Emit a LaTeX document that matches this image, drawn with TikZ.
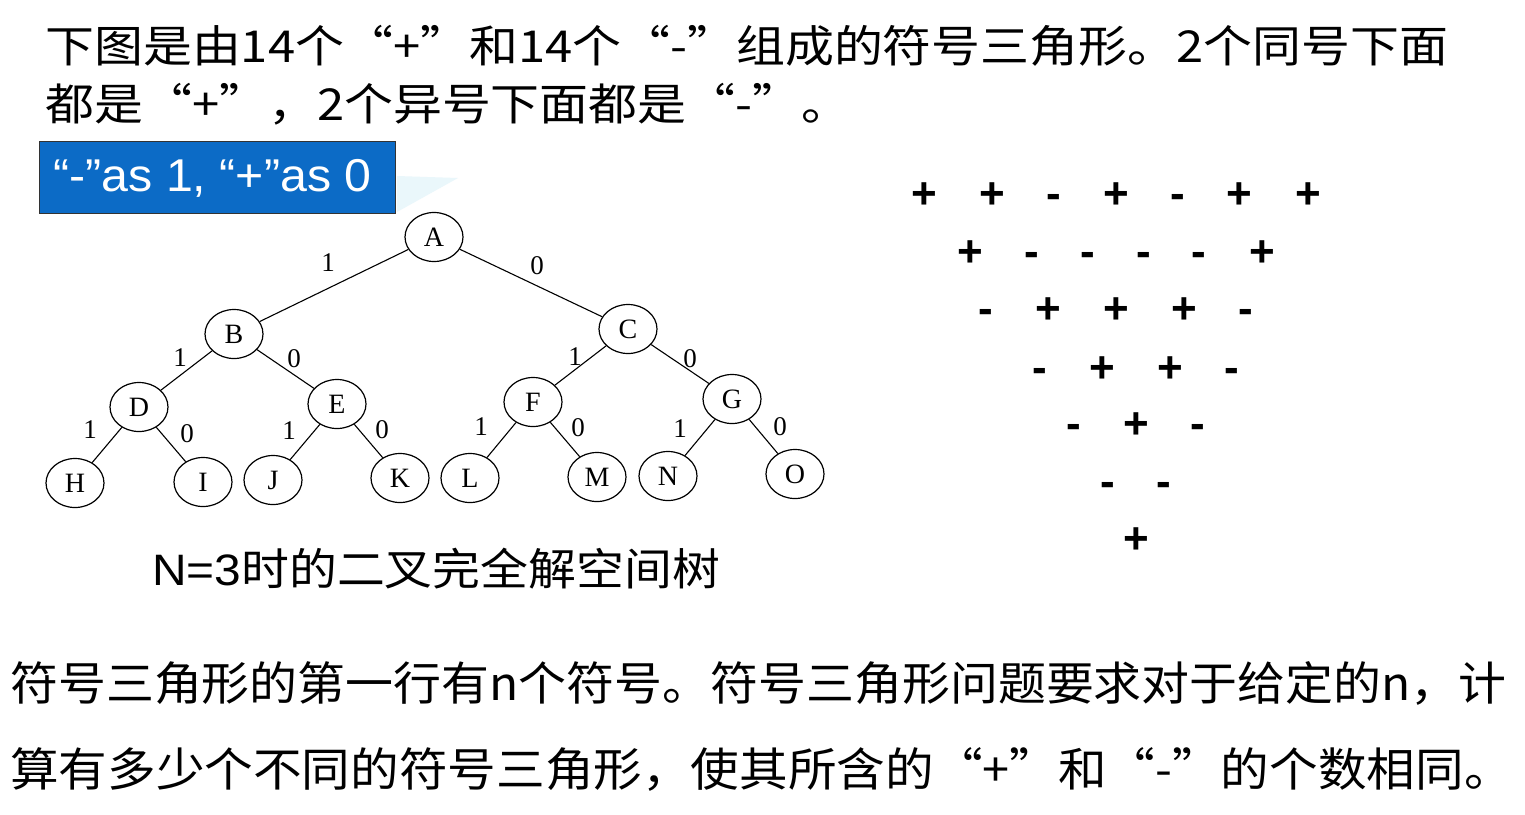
\documentclass[tikz,border=0pt]{standalone}
\usepackage{fontspec}
\setmainfont{Liberation Sans}
\newfontfamily\cjk{Noto Sans CJK SC}
\newfontfamily\treefont{Liberation Serif}
\usetikzlibrary{shapes.geometric}
\definecolor{boxblue}{HTML}{0C6BC6}
\definecolor{swoosh}{HTML}{EAF7FB}
\tikzset{
  tn/.style={ellipse, draw, line width=1.2pt, minimum width=58pt, minimum height=49pt, inner sep=0pt, font=\treefont\fontsize{28}{28}\selectfont},
  el/.style={inner sep=0pt, font=\treefont\fontsize{27}{27}\selectfont},
  ed/.style={line width=1.1pt},
  sg/.style={anchor=base, inner sep=0pt, font=\bfseries\fontsize{44}{44}\selectfont},
  bigtxt/.style={anchor=base west, inner sep=0pt, font=\cjk\fontsize{44}{50}\selectfont, xscale=1.112, transform shape},
  bottxt/.style={anchor=base west, inner sep=0pt, font=\cjk\fontsize{46}{50}\selectfont, transform shape},
}
\begin{document}
\begin{tikzpicture}[x=1pt,y=-1pt]
\fill[white] (0,0) rectangle (1525,814);
\useasboundingbox (0,0) rectangle (1525,814);
% top text
\node[bigtxt] (t1) at (45,62) {下图是由14个“+”和14个“-”组成的符号三角形。2个同号下面};
\node[bigtxt] (t2) at (45,120) {都是“+”，2个异号下面都是“-”。};
% decoration
\fill[swoosh] (397,176) -- (458,178) -- (397,212) -- cycle;
% blue box
\node[fill=boxblue, draw=black!80, line width=1pt, minimum width=356pt, minimum height=72pt, inner sep=0pt] (box) at (217,177) {};
\node[text=white, inner sep=0pt, font=\fontsize{46}{46}\selectfont, xscale=1.05, transform shape] (boxtxt) at (212.5,178) {“-”as 1, “+”as 0};
% tree
\node[tn] (A) at (434,237) {A};
\node[tn] (B) at (234,334) {B};
\node[tn] (C) at (628,329) {C};
\node[tn] (D) at (139,407) {D};
\node[tn] (E) at (337,404) {E};
\node[tn] (F) at (533,402) {F};
\node[tn] (G) at (732,399) {G};
\node[tn] (H) at (75,483) {H};
\node[tn] (I) at (203,482) {I};
\node[tn] (J) at (273,480) {J};
\node[tn] (K) at (400,478) {K};
\node[tn] (L) at (470,478) {L};
\node[tn] (M) at (597,477) {M};
\node[tn] (N) at (668,476) {N};
\node[tn] (O) at (795,474) {O};
\draw[ed] (A) -- (B); \draw[ed] (A) -- (C);
\draw[ed] (B) -- (D); \draw[ed] (B) -- (E);
\draw[ed] (C) -- (F); \draw[ed] (C) -- (G);
\draw[ed] (D) -- (H); \draw[ed] (D) -- (I);
\draw[ed] (E) -- (J); \draw[ed] (E) -- (K);
\draw[ed] (F) -- (L); \draw[ed] (F) -- (M);
\draw[ed] (G) -- (N); \draw[ed] (G) -- (O);
\node[el] (lab) at (328,263) {1};
\node[el] (lac) at (537,266) {0};
\node[el] (lbd) at (180,358) {1};
\node[el] (lbe) at (294,359) {0};
\node[el] (ldh) at (90,430) {1};
\node[el] (ldi) at (187,434) {0};
\node[el] (lej) at (289,431) {1};
\node[el] (lek) at (382,430) {0};
\node[el] (lcf) at (575,357) {1};
\node[el] (lcg) at (690,359) {0};
\node[el] (lfl) at (481,427) {1};
\node[el] (lfm) at (578,428) {0};
\node[el] (lgn) at (680,429) {1};
\node[el] (lgo) at (780,427) {0};
% caption
\node[anchor=base west, inner sep=0pt, font=\fontsize{44}{50}\selectfont, xscale=1.088, transform shape] (cap) at (152,585) {N=3{\cjk 时的二叉完全解空间树}};
% sign triangle
\node[sg] (r1a) at (924,208) {+};
\node[sg] (r1b) at (992,208) {+};
\node[sg] (r1c) at (1054,208) {-};
\node[sg] (r1d) at (1116,208) {+};
\node[sg] (r1e) at (1178,208) {-};
\node[sg] (r1f) at (1239,208) {+};
\node[sg] (r1g) at (1308,208) {+};
\node[sg] (r2a) at (970,266) {+};
\node[sg] (r2b) at (1032,266) {-};
\node[sg] (r2c) at (1088,266) {-};
\node[sg] (r2d) at (1144,266) {-};
\node[sg] (r2e) at (1199,266) {-};
\node[sg] (r2f) at (1262,266) {+};
\node[sg] (r3a) at (986,323) {-};
\node[sg] (r3b) at (1048,323) {+};
\node[sg] (r3c) at (1116,323) {+};
\node[sg] (r3d) at (1184,323) {+};
\node[sg] (r3e) at (1246,323) {-};
\node[sg] (r4a) at (1040,382) {-};
\node[sg] (r4b) at (1102,382) {+};
\node[sg] (r4c) at (1170,382) {+};
\node[sg] (r4d) at (1232,382) {-};
\node[sg] (r5a) at (1074,438) {-};
\node[sg] (r5b) at (1136,438) {+};
\node[sg] (r5c) at (1198,438) {-};
\node[sg] (r6a) at (1108,496) {-};
\node[sg] (r6b) at (1164,496) {-};
\node[sg] (r7a) at (1136,553) {+};
% bottom text
\node[bottxt, xscale=1.042] (b1) at (10,700) {符号三角形的第一行有n个符号。符号三角形问题要求对于给定的n，计};
\node[bottxt, xscale=1.057] (b2) at (10,786) {算有多少个不同的符号三角形，使其所含的“+”和“-”的个数相同。};
\end{tikzpicture}
\end{document}
